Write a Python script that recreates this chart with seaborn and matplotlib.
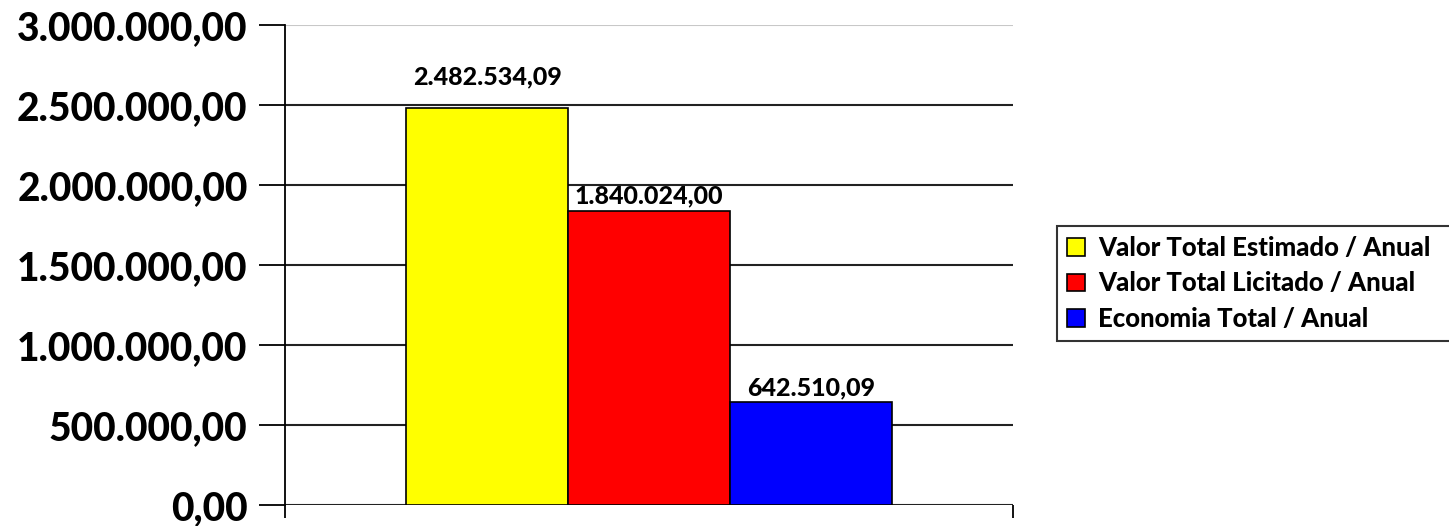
import matplotlib
matplotlib.use("Agg")
import matplotlib.pyplot as plt
import matplotlib.ticker as mticker
import seaborn as sns
import pandas as pd

# data
series = ["Valor Total Estimado / Anual", "Valor Total Licitado / Anual", "Economia Total / Anual"]
values = [2482534.09, 1840024.00, 642510.09]
colors = ["#FFFF00", "#FF0000", "#0000FF"]
label_offsets = [14, 2, 2]  # points above bar top

W = 900


def br_fmt(v, pos=None):
    s = f"{v:,.2f}"
    return s.replace(",", "X").replace(".", ",").replace("X", ".")


df = pd.DataFrame({"grupo": [""] * 3, "serie": series, "valor": values})

sns.set_style("white")
plt.rcParams["font.family"] = ["Lato", "DejaVu Sans"]
plt.rcParams["font.weight"] = W
plt.rcParams["text.color"] = "black"
plt.rcParams["ytick.color"] = "black"
plt.rcParams["xtick.color"] = "black"

fig = plt.figure(figsize=(14.49, 5.26), dpi=100)
ax = fig.add_axes([0.1967, 0.0399, 0.5024, 0.9126])

sns.barplot(data=df, x="grupo", y="valor", hue="serie", palette=colors, saturation=1,
            width=0.667, edgecolor="black", linewidth=1.2, ax=ax, zorder=3)

ax.set_xlim(-0.5, 0.5)
ax.set_ylim(0, 3000000)
ax.set_yticks([0, 500000, 1000000, 1500000, 2000000, 2500000, 3000000])
ax.yaxis.set_major_formatter(mticker.FuncFormatter(br_fmt))
ax.tick_params(axis="y", labelsize=28, length=19, width=1.3, color="black",
               labelcolor="black", pad=8, left=True)
for lbl in ax.get_yticklabels():
    lbl.set_fontweight(W)

ax.set_xticks([])
ax.set_xticks([-0.5, 0.5], minor=True)
ax.tick_params(axis="x", which="minor", length=9, width=1.3, color="black", bottom=True)
ax.set_xlabel("")
ax.set_ylabel("")

ax.yaxis.grid(True, color="#222222", linewidth=1.5, zorder=0)
ax.set_axisbelow(True)
gl = ax.get_ygridlines()
gl[-1].set_color("#c8c8c8")

for side in ["top", "right", "bottom"]:
    ax.spines[side].set_visible(False)
ax.spines["left"].set_color("black")
ax.spines["left"].set_linewidth(1.3)

for cont, off in zip(ax.containers, label_offsets):
    for bar in cont:
        ax.annotate(br_fmt(bar.get_height()),
                    (bar.get_x() + bar.get_width() / 2, bar.get_height()),
                    xytext=(0, off), textcoords="offset points", color="black",
                    ha="center", va="bottom", fontsize=18, fontweight=W)

# legend box runs past the right edge of the figure, as in the original
leg = ax.legend(loc="upper left", bbox_to_anchor=(0.7295, 0.571, 0.30, 0.0),
                bbox_transform=fig.transFigure, mode="expand", fontsize=18.5, frameon=True,
                fancybox=False, edgecolor="black", handlelength=0.7, handleheight=0.7,
                handletextpad=0.5, labelspacing=0.45, borderpad=0.4, borderaxespad=0)
leg.get_frame().set_linewidth(1.5)
for t in leg.get_texts():
    t.set_fontweight(W)
    t.set_color("black")

fig.savefig("out.png", dpi=100)
